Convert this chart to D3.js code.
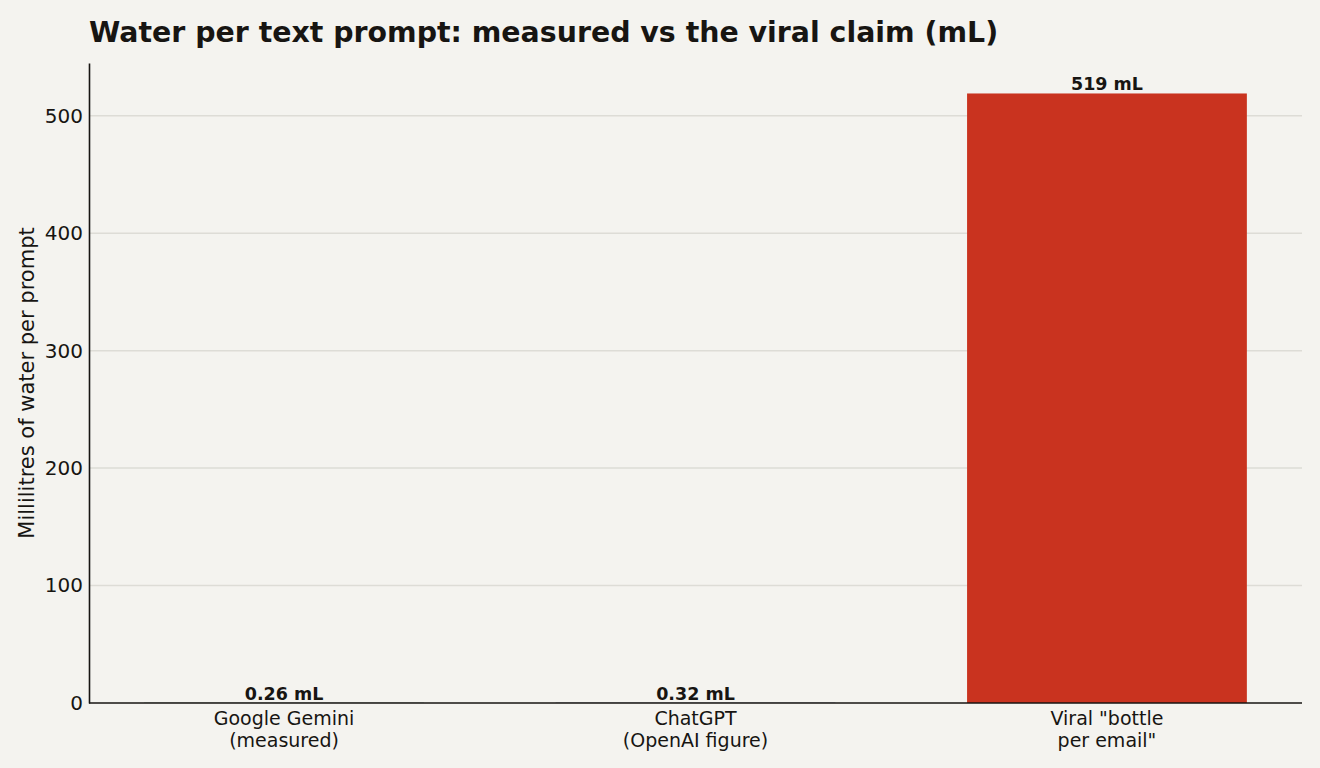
<!DOCTYPE html>
<html>
<head>
<meta charset="utf-8">
<script src="https://cdn.jsdelivr.net/npm/d3@7"></script>
<style>
  body { margin: 0; background: #f4f3ef; }
  svg { display: block; font-family: "DejaVu Sans", sans-serif; }
</style>
</head>
<body>
<div id="chart"></div>
<script>
const categories = ["Google Gemini\n(measured)", "ChatGPT\n(OpenAI figure)", "Viral \"bottle\nper email\""];
const values = [0.26, 0.32, 519];
const valueLabels = ["0.26 mL", "0.32 mL", "519 mL"];
const barColors = ["#5b8a72", "#6b7f99", "#c9331f"];
const yTicks = [0, 100, 200, 300, 400, 500];

const width = 1320, height = 768;
const margins = { top: 63, bottom: 65, left: 89, right: 18 };
const innerW = width - margins.left - margins.right;
const innerH = height - margins.top - margins.bottom;
const ink = "#171512";

const svg = d3.select("#chart").append("svg")
  .attr("width", width)
  .attr("height", height);

svg.append("rect").attr("width", width).attr("height", height).attr("fill", "#f4f3ef");

const g = svg.append("g")
  .attr("transform", "translate(" + margins.left + "," + margins.top + ")");

// x in "bar index" units, like matplotlib: bars at 0,1,2 with width 0.68 and 5% margins
const barW = 0.68;
const span = (categories.length - 1) + barW;
const x = d3.scaleLinear()
  .domain([-barW / 2 - span * 0.05, categories.length - 1 + barW / 2 + span * 0.05])
  .range([0, innerW]);

const y = d3.scaleLinear()
  .domain([0, d3.max(values) * 1.05])
  .range([innerH, 0]);

// gridlines
g.append("g").selectAll("line")
  .data(yTicks.filter(d => d > 0))
  .enter().append("line")
  .attr("x1", 0).attr("x2", innerW)
  .attr("y1", d => y(d)).attr("y2", d => y(d))
  .attr("stroke", "#dddcd6").attr("stroke-width", 1.5);

// bars
g.append("g").selectAll("rect")
  .data(values)
  .enter().append("rect")
  .attr("x", (d, i) => x(i - barW / 2))
  .attr("width", (d, i) => x(i + barW / 2) - x(i - barW / 2))
  .attr("y", d => y(d))
  .attr("height", d => innerH - y(d))
  .attr("fill", (d, i) => barColors[i]);

// value labels
g.append("g").selectAll("text")
  .data(values)
  .enter().append("text")
  .attr("x", (d, i) => x(i))
  .attr("y", d => y(d) - 3)
  .attr("text-anchor", "middle")
  .attr("font-size", 17.5)
  .attr("font-weight", "bold")
  .attr("fill", ink)
  .text((d, i) => valueLabels[i]);

// y axis
const yAxis = g.append("g")
  .call(d3.axisLeft(y).tickValues(yTicks).tickSize(0).tickPadding(6));
yAxis.select(".domain").attr("stroke", ink).attr("stroke-width", 1.6);
yAxis.selectAll("text").attr("font-size", 20).attr("fill", ink).attr("font-family", "DejaVu Sans");

// x axis
const xAxis = g.append("g")
  .attr("transform", "translate(0," + innerH + ")");
xAxis.append("line")
  .attr("x1", 0).attr("x2", innerW)
  .attr("stroke", ink).attr("stroke-width", 1.6);
const xl = xAxis.selectAll("text.cat")
  .data(categories)
  .enter().append("text")
  .attr("class", "cat")
  .attr("x", (d, i) => x(i))
  .attr("y", 22)
  .attr("text-anchor", "middle")
  .attr("font-size", 19)
  .attr("fill", ink);
xl.selectAll("tspan")
  .data(d => d.split("\n"))
  .enter().append("tspan")
  .attr("x", function () { return d3.select(this.parentNode).attr("x"); })
  .attr("dy", (d, i) => i === 0 ? 0 : 22)
  .text(d => d);

// y label
svg.append("text")
  .attr("transform", "translate(34," + (margins.top + innerH / 2) + ") rotate(-90)")
  .attr("text-anchor", "middle")
  .attr("font-size", 21)
  .attr("fill", ink)
  .text("Millilitres of water per prompt");

// title
svg.append("text")
  .attr("x", margins.left)
  .attr("y", 42)
  .attr("font-size", 28.4)
  .attr("font-weight", "bold")
  .attr("fill", ink)
  .text("Water per text prompt: measured vs the viral claim (mL)");
</script>
</body>
</html>
